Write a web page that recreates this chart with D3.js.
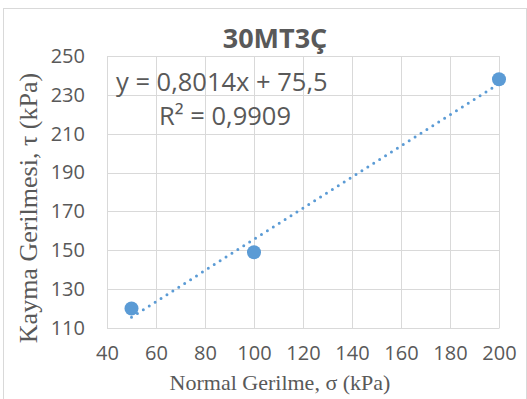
<!DOCTYPE html>
<html>
<head>
<meta charset="utf-8">
<script src="https://cdn.jsdelivr.net/npm/d3@7"></script>
<style>
  html, body { margin: 0; padding: 0; background: #fff; }
  svg { display: block; }
</style>
</head>
<body>
<svg id="chart" width="527" height="399"></svg>
<script>
// Direct shear test results
const normalStress = [50, 100, 200];
const shearStress = [120, 149, 238];
const fitSlope = 0.8014;
const fitIntercept = 75.5;
const fitLabel = "y = 0,8014x + 75,5";
const r2Label = "R² = 0,9909";
const xTicks = [40, 60, 80, 100, 120, 140, 160, 180, 200];
const yTicks = [110, 130, 150, 170, 190, 210, 230, 250];
const titleText = "30MT3Ç";
const xTitle = "Normal Gerilme, σ (kPa)";
const yTitle = "Kayma Gerilmesi, τ (kPa)";

const svg = d3.select("#chart");
const W = 527, H = 399;
const m = { left: 107, right: 28, top: 56, bottom: 71 };

svg.append("rect")
  .attr("x", 3.5).attr("y", 8.5)
  .attr("width", W - 4).attr("height", H - 8)
  .attr("fill", "#fff").attr("stroke", "#d9d9d9");

const x = d3.scaleLinear().domain([40, 200]).range([m.left, W - m.right]);
const y = d3.scaleLinear().domain([110, 250]).range([H - m.bottom, m.top]);

const sansFont = "'Open Sans', 'Noto Sans', sans-serif";
const serifFont = "'Liberation Serif', 'Times New Roman', serif";
const textColor = "#595959";

// gridlines
svg.append("g").selectAll("line").data(xTicks).join("line")
  .attr("x1", d => Math.round(x(d)) + 0.5).attr("x2", d => Math.round(x(d)) + 0.5)
  .attr("y1", y(250)).attr("y2", y(110))
  .attr("stroke", "#d9d9d9").attr("stroke-width", 1);
svg.append("g").selectAll("line").data(yTicks).join("line")
  .attr("x1", x(40)).attr("x2", x(200))
  .attr("y1", d => Math.round(y(d)) + 0.5).attr("y2", d => Math.round(y(d)) + 0.5)
  .attr("stroke", "#d9d9d9").attr("stroke-width", 1);

// axes
const xAxis = svg.append("g")
  .attr("transform", `translate(0,${y(110)})`)
  .call(d3.axisBottom(x).tickValues(xTicks).tickSize(0).tickPadding(18));
xAxis.select(".domain").attr("stroke", "#d9d9d9");
xAxis.selectAll("text").attr("font-family", sansFont).attr("font-size", 20).attr("fill", textColor);

const yAxis = svg.append("g")
  .attr("transform", `translate(${x(40)},0)`)
  .call(d3.axisLeft(y).tickValues(yTicks).tickSize(0).tickPadding(22));
yAxis.select(".domain").remove();
yAxis.selectAll("text").attr("font-family", sansFont).attr("font-size", 20).attr("fill", textColor);

// linear trendline
svg.append("line")
  .attr("x1", x(normalStress[0]))
  .attr("y1", y(fitSlope * normalStress[0] + fitIntercept))
  .attr("x2", x(normalStress[normalStress.length - 1]))
  .attr("y2", y(fitSlope * normalStress[normalStress.length - 1] + fitIntercept))
  .attr("stroke", "#5b9bd5").attr("stroke-width", 3)
  .attr("stroke-linecap", "round").attr("stroke-dasharray", "0 7");

// measured points
svg.append("g").selectAll("circle").data(normalStress).join("circle")
  .attr("cx", d => x(d)).attr("cy", (d, i) => y(shearStress[i]))
  .attr("r", 7).attr("fill", "#5b9bd5");

// trendline equation
svg.append("text").attr("x", 116).attr("y", 91)
  .attr("font-family", sansFont).attr("font-size", 25.5).attr("fill", textColor)
  .text(fitLabel);
svg.append("text").attr("x", 225).attr("y", 125).attr("text-anchor", "middle")
  .attr("font-family", sansFont).attr("font-size", 25.5).attr("fill", textColor)
  .text(r2Label);

// title
svg.append("text").attr("x", 275).attr("y", 48).attr("text-anchor", "middle")
  .attr("font-family", sansFont).attr("font-size", 27).attr("font-weight", "bold").attr("fill", textColor)
  .text(titleText);

// axis titles
svg.append("text").attr("x", 280).attr("y", 390).attr("text-anchor", "middle")
  .attr("font-family", serifFont).attr("font-size", 22).attr("fill", textColor)
  .text(xTitle);
svg.append("text").attr("transform", `translate(37,208) rotate(-90)`)
  .attr("text-anchor", "middle")
  .attr("font-family", serifFont).attr("font-size", 26).attr("fill", textColor)
  .text(yTitle);
</script>
</body>
</html>
